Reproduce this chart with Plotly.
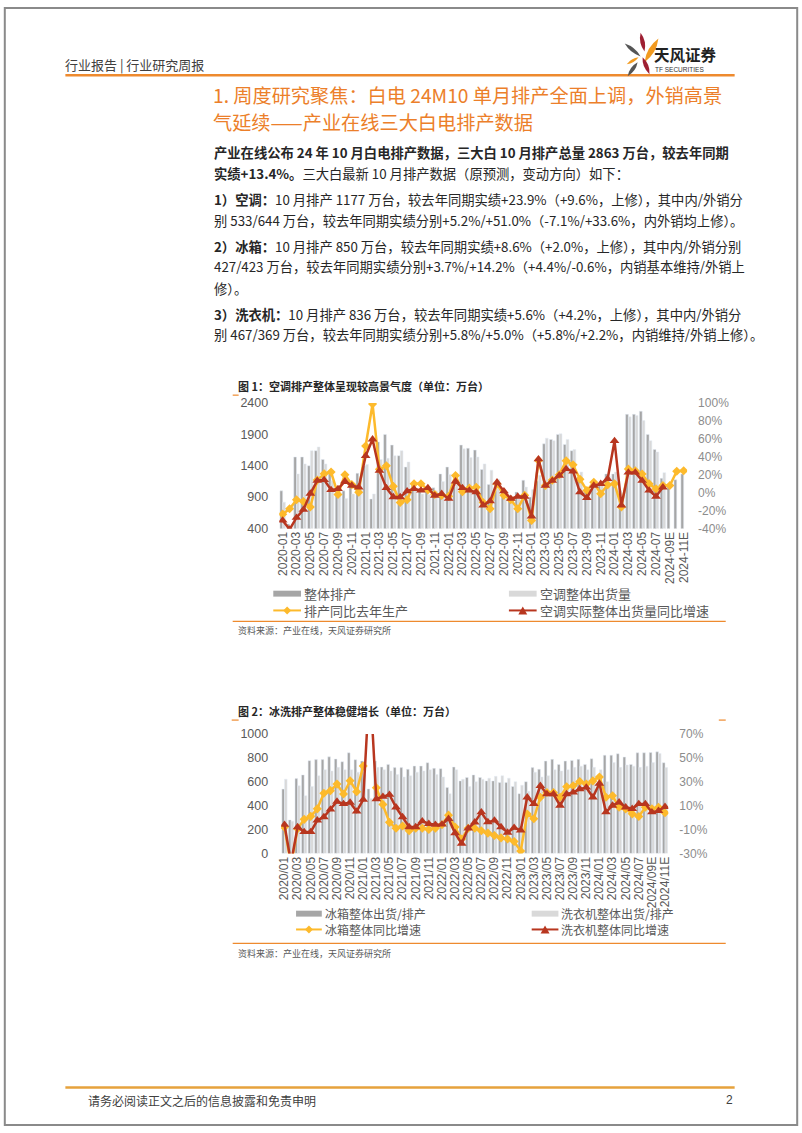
import math
import plotly.graph_objects as go

# ---------------- data ----------------
ac_months = [f"{y}-{m:02d}" for y in range(2020, 2025) for m in range(1, 13)][:56] + ["2024-09E", "2024-10E", "2024-11E"]
fw_months = [f"{y}/{m:02d}" for y in range(2020, 2025) for m in range(1, 13)][:56] + ["2024/09E", "2024/10E", "2024/11E"]

ac_prod = [1000, 470, 1540, 1540, 1400, 1640, 1500, 1320, 1060, 1000, 1100, 1280,
           1400, 870, 1780, 1900, 1730, 1560, 1380, 1100, 1000, 1000, 1050, 1270,
           1380, 1060, 1730, 1680, 1650, 1340, 1100, 1000, 920, 880, 980, 1170,
           900, 1160, 1750, 1820, 1900, 1740, 1640, 1220, 1060, 1110, 1080, 1270,
           1270, 1000, 2220, 2220, 2270, 1900, 1660, 1200, 1110, 1177, 1270]
ac_ship = [820, 420, 1270, 1430, 1640, 1700, 1430, 1160, 980, 880, 950, 1170,
           1420, 950, 1500, 1520, 1560, 1640, 1460, 1000, 950, 940, 1000, 1150,
           1260, 1100, 1670, 1530, 1540, 1430, 1330, 1180, 870, 800, 880, 1060,
           1020, 1250, 1840, 1800, 1910, 1820, 1660, 1300, 1000, 1050, 1150, 1230,
           1300, 900, 2180, 2200, 2120, 1800, 1620, 1290, None, None, None]
ac_prod_yoy = [-24, -18, -8, -10, -16, 14, 21, 23, -2, 20, 9, 0.5,
               52, 99, 26, 30, 7, -11, -8, 10, 10, 3, -2, -3,
               -4, 19, 1, 5, 6, -11, -18, 10, -3, -8, -18, -3,
               -31, 36, 8, 14, 20, 35.5, 31, 15, 2.4, 11.5, -1.3, 8.7,
               10, -16, 26.4, 24.5, 20.8, 9.8, 4.2, 7.9, 7.9, 23.9, 24.5]
ac_ship_yoy = [-31, -41, -28, -19, -1, 13.4, 14.2, 3, 4.2, 12.6, 7.9, 6,
               41, 59.5, 24.5, 5.3, -5, -5, 1.6, 4.2, 2.4, 5.3, -3.2, -1.3,
               -6.8, 12.6, 5.3, 2.4, 0.5, -14.2, -9.5, 11.5, 1.6, -6.8, -4.3, -4.3,
               -26.4, 37.4, 7.9, 13.4, 19, 26.4, 23.7, 0.5, -5.7, 7.9, 9.8, 15.3,
               57.7, -14.2, 22.6, 22.6, 13.4, 2.4, -4.3, 6]

fridge = [538, 280, 626, 657, 776, 785, 785, 808, 790, 767, 842, 784,
          773, 540, 773, 723, 745, 718, 718, 704, 731, 731, 759, 712,
          709, 552, 723, 607, 635, 657, 635, 607, 607, 593, 593, 560,
          500, 600, 718, 704, 773, 787, 745, 773, 778, 787, 745, 792,
          585, 822, 822, 834, 806, 745, 842, 842, 845, 850, 759]
washer = [621, 270, 566, 483, 560, 650, 700, 690, 720, 700, 700, 680,
          660, 460, 720, 700, 690, 660, 640, 650, 680, 690, 700, 660,
          640, 500, 700, 620, 560, 600, 620, 630, 645, 650, 630, 600,
          570, 520, 680, 640, 650, 700, 690, 700, 720, 730, 700, 720,
          700, 600, 760, 720, 740, 730, 720, 730, 760, 836, 718]
fridge_yoy = [-8, -40, -9.3, -1.5, 1, 7.3, 20.3, 22.5, 28, 19.7, 30.8, 21.7,
              43.2, None, 25, 11, -4, -9, -7, -11, -9, -9, -10, -9,
              -6, 2, -8, -18, -9, -9, -11, -13, -15, -17, -18, -20,
              -28, 3, -1, 17, 21, 21, 17, 25.8, 26.6, 30.2, 28, 30.7,
              34, 17, 18.3, 8.6, 7.3, 3.1, 0.9, 8.6, 7.3, 8.6, 4]
washer_yoy = [-6, -38, -7.9, -12, -12, -2.3, 0.4, 6.8, 13.4, 11.4, 12.6, 5.1,
              15, 115, 15.5, 17.5, 19.1, 8.6, 0.4, -7.9, -7.9, -3, -5.2, -6,
              -5.7, -1, -13, -21.7, -9, -4, 4.5, -3.8, -2.4, -7.9, -12.5, -8.5,
              -10.7, 17, 11.4, 26.6, 19.7, 19.7, 10, 19.7, 21, 23.8, 25.2, 17,
              28.5, 4.5, 10, 12.8, 8.6, 7.3, 11.4, 11.4, 4.5, 5.6, 9]

ac_left_ticks = [400, 900, 1400, 1900, 2400]
ac_right_ticks = [-40, -20, 0, 20, 40, 60, 80, 100]
ac_right_text = ["-40%", "-20%", "0%", "20%", "40%", "60%", "80%", "100%"]
fw_left_ticks = [0, 200, 400, 600, 800, 1000]
fw_right_ticks = [-30, -10, 10, 30, 50, 70]
fw_right_text = ["-30%", "-10%", "10%", "30%", "50%", "70%"]

# ---------------- style ----------------
W, H = 802, 1133
CJK = "Noto Sans CJK SC"
NUM = "Liberation Sans"
DARK = "#A6A6A6"
LIGHT = "#D9D9D9"
YEL = "#FDBA2C"
RED = "#B8361F"
ORANGE = "#EE8A2E"


def px(x):
    return x / W


def py(y):
    return 1 - y / H


fig = go.Figure()

# chart 1
fig.add_trace(go.Bar(x=ac_months, y=ac_prod, marker_color=DARK, xaxis="x", yaxis="y", name="整体排产"))
fig.add_trace(go.Bar(x=ac_months, y=ac_ship, marker_color=LIGHT, xaxis="x", yaxis="y", name="空调整体出货量"))
fig.add_trace(go.Scatter(x=ac_months, y=ac_prod_yoy, mode="lines+markers", xaxis="x", yaxis="y2",
                         line=dict(color=YEL, width=2.5), marker=dict(symbol="diamond", size=7, color=YEL),
                         name="排产同比去年生产"))
fig.add_trace(go.Scatter(x=ac_months[:len(ac_ship_yoy)], y=ac_ship_yoy, mode="lines+markers", xaxis="x", yaxis="y2",
                         line=dict(color=RED, width=2.5), marker=dict(symbol="triangle-up", size=8.5, color=RED),
                         name="空调实际整体出货量同比增速"))
# chart 2
fig.add_trace(go.Bar(x=fw_months, y=fridge, marker_color=DARK, xaxis="x2", yaxis="y3", name="冰箱整体出货/排产"))
fig.add_trace(go.Bar(x=fw_months, y=washer, marker_color=LIGHT, xaxis="x2", yaxis="y3", name="洗衣机整体出货/排产"))
fig.add_trace(go.Scatter(x=fw_months, y=fridge_yoy, mode="lines+markers", xaxis="x2", yaxis="y4",
                         line=dict(color=YEL, width=2.5), marker=dict(symbol="diamond", size=7, color=YEL),
                         name="冰箱整体同比增速"))
fig.add_trace(go.Scatter(x=fw_months, y=washer_yoy, mode="lines+markers", xaxis="x2", yaxis="y4",
                         line=dict(color=RED, width=2.5), marker=dict(symbol="triangle-up", size=8.5, color=RED),
                         name="洗衣机整体同比增速"))

tickfont_l = dict(family=NUM, size=12.5, color="#595959")
tickfont_r = dict(family=NUM, size=12, color="#8C8C8C")
tickfont_x = dict(family=NUM, size=12, color="#595959")

axis_common = dict(showgrid=False, zeroline=False, showline=False, ticks="")

layout = dict(
    width=W, height=H, margin=dict(l=0, r=0, t=0, b=0),
    paper_bgcolor="white", plot_bgcolor="rgba(0,0,0,0)",
    showlegend=False, barmode="group", bargap=0.2, bargroupgap=0,
    xaxis=dict(domain=[px(278), px(690)], anchor="y", type="category", range=[-0.5, 58.5],
               tickmode="array", tickvals=ac_months[::2], ticktext=ac_months[::2],
               tickangle=-90, tickfont=tickfont_x, **axis_common),
    yaxis=dict(domain=[py(528), py(401)], anchor="x", range=[400, 2400], tickvals=ac_left_ticks,
               tickfont=tickfont_l, ticklabelstandoff=10, **axis_common),
    yaxis2=dict(overlaying="y", anchor="x", side="right", range=[-40, 100], tickmode="array",
                tickvals=ac_right_ticks, ticktext=ac_right_text,
                tickfont=tickfont_r, ticklabelstandoff=10, **axis_common),
    xaxis2=dict(domain=[px(280), px(671)], anchor="y3", type="category", range=[-0.5, 58.5],
                tickmode="array", tickvals=fw_months[::2], ticktext=fw_months[::2],
                tickangle=-90, tickfont=tickfont_x, **axis_common),
    yaxis3=dict(domain=[py(857), py(736)], anchor="x2", range=[0, 1000], tickvals=fw_left_ticks,
                tickfont=tickfont_l, ticklabelstandoff=12, **axis_common),
    yaxis4=dict(overlaying="y3", anchor="x2", side="right", range=[-30, 70], tickmode="array",
                tickvals=fw_right_ticks, ticktext=fw_right_text,
                tickfont=tickfont_r, ticklabelstandoff=10, **axis_common),
)
fig.update_layout(**layout)

shapes = []
annots = []


def hline(x0, x1, y, color, width):
    shapes.append(dict(type="line", xref="paper", yref="paper", x0=px(x0), x1=px(x1), y0=py(y), y1=py(y),
                       line=dict(color=color, width=width)))


def rect(x0, x1, y0, y1, color):
    shapes.append(dict(type="rect", xref="paper", yref="paper", x0=px(x0), x1=px(x1), y0=py(y1), y1=py(y0),
                       fillcolor=color, line=dict(width=0)))


def poly(points, color):
    d = "M " + " L ".join(f"{px(x):.5f},{py(y):.5f}" for x, y in points) + " Z"
    shapes.append(dict(type="path", xref="paper", yref="paper", path=d, fillcolor=color, line=dict(width=0)))


def leaf(p1, p2, w, color):
    (x1, y1), (x2, y2) = p1, p2
    mx, my = (x1 + x2) / 2, (y1 + y2) / 2
    dx, dy = x2 - x1, y2 - y1
    L = math.hypot(dx, dy)
    nx, ny = -dy / L * w, dx / L * w
    c1 = (mx + nx, my + ny)
    c2 = (mx - nx, my - ny)
    d = (f"M {px(x1):.5f},{py(y1):.5f} Q {px(c1[0]):.5f},{py(c1[1]):.5f} {px(x2):.5f},{py(y2):.5f} "
         f"Q {px(c2[0]):.5f},{py(c2[1]):.5f} {px(x1):.5f},{py(y1):.5f} Z")
    shapes.append(dict(type="path", xref="paper", yref="paper", path=d, fillcolor=color, line=dict(width=0)))


def txt(x, y, text, size, color="#262626", anchor="left", family=CJK):
    annots.append(dict(x=px(x), y=py(y), xref="paper", yref="paper", text=text, showarrow=False,
                       xanchor=anchor, yanchor="middle", borderpad=0,
                       font=dict(family=family, size=size, color=color)))


# page frame
shapes.append(dict(type="rect", xref="paper", yref="paper", x0=0.001, x1=0.999, y0=0.001, y1=0.999,
                   line=dict(color="#8A8A8A", width=2)))

# header
txt(61, 58, "行业报告 | 行业研究周报", 13, "#404040")
hline(62, 738, 69, ORANGE, 2.5)
# logo
MAROON = "#9E1F32"
LOGO_OR = "#F29A1F"
GRAY = "#555555"
leaf((643, 26), (647, 45), 4.5, MAROON)
leaf((661, 32), (647, 56), 6, LOGO_OR)
leaf((627, 37), (643, 50), 4, GRAY)
leaf((629, 58), (641, 51), 3, LOGO_OR)
leaf((645, 51), (652, 68), 4.5, MAROON)
leaf((640, 56), (630, 70), 4, GRAY)
txt(656, 48, "<b>天风证券</b>", 15.5, "#222222")
txt(657, 63, "TF SECURITIES", 6.5, "#333333", family=NUM)

# title
TITLE_C = "#EC7F2A"
txt(210, 89, "1. 周度研究聚焦：白电 24M10 单月排产全面上调，外销高景", 19.2, TITLE_C)
txt(210, 116, "气延续——产业在线三大白电排产数据", 19.2, TITLE_C)

# paragraphs
P = 13.3
PC = "#262626"
X0 = 211
txt(X0, 147, "<b>产业在线公布 24 年 10 月白电排产数据，三大白 10 月排产总量 2863 万台，较去年同期</b>", P, PC)
txt(X0, 169, "<b>实绩+13.4%。</b>三大白最新 10 月排产数据（原预测，变动方向）如下：", P, PC)
txt(X0, 195, "<b>1）空调：</b>10 月排产 1177 万台，较去年同期实绩+23.9%（+9.6%，上修），其中内/外销分", P, PC)
txt(X0, 216, "别 533/644 万台，较去年同期实绩分别+5.2%/+51.0%（-7.1%/+33.6%，内外销均上修）。", P, PC)
txt(X0, 242, "<b>2）冰箱：</b>10 月排产 850 万台，较去年同期实绩+8.6%（+2.0%，上修），其中内/外销分别", P, PC)
txt(X0, 263, "427/423 万台，较去年同期实绩分别+3.7%/+14.2%（+4.4%/-0.6%，内销基本维持/外销上", P, PC)
txt(X0, 285, "修）。", P, PC)
txt(X0, 311, "<b>3）洗衣机：</b>10 月排产 836 万台，较去年同期实绩+5.6%（+4.2%，上修），其中内/外销分", P, PC)
txt(X0, 332, "别 467/369 万台，较去年同期实绩分别+5.8%/+5.0%（+5.8%/+2.2%，内销维持/外销上修）。", P, PC)

# chart 1 frame texts
txt(235, 384, "<b>图 1：空调排产整体呈现较高景气度（单位：万台）</b>", 11, "#262626")
hline(231, 237, 393, ORANGE, 1.2)
LG = "#595959"
rect(272, 300, 591, 597, DARK)
txt(302, 594, "整体排产", 13, LG)
rect(510, 538, 591, 597, LIGHT)
txt(540, 594, "空调整体出货量", 13, LG)
hline(272, 300, 611, YEL, 2)
poly([(286, 607), (290, 611), (286, 615), (282, 611)], YEL)
txt(302, 611, "排产同比去年生产", 13, LG)
hline(510, 538, 611, RED, 2)
poly([(519.5, 615), (524, 607), (528.5, 615)], RED)
txt(540, 611, "空调实际整体出货量同比增速", 13, LG)
hline(231, 729, 622, ORANGE, 1.2)
txt(235, 631, "资料来源：产业在线，天风证券研究所", 9, "#595959")

# chart 2 frame texts
txt(235, 713, "<b>图 2：冰洗排产整体稳健增长（单位：万台）</b>", 11, "#262626")
hline(230, 237, 722, ORANGE, 1.2)
hline(722, 729, 722, ORANGE, 1.2)
rect(295, 321, 915, 921, DARK)
txt(323, 918, "冰箱整体出货/排产", 12, LG)
rect(533, 560, 915, 921, LIGHT)
txt(562, 918, "洗衣机整体出货/排产", 12, LG)
hline(295, 321, 934, YEL, 2)
poly([(308, 930), (312, 934), (308, 938), (304, 934)], YEL)
txt(323, 934, "冰箱整体同比增速", 12, LG)
hline(533, 560, 934, RED, 2)
poly([(542, 938), (546.5, 930), (551, 938)], RED)
txt(562, 934, "洗衣机整体同比增速", 12, LG)
hline(231, 729, 948, ORANGE, 1.2)
txt(235, 958, "资料来源：产业在线，天风证券研究所", 9, "#595959")

# footer
hline(62, 738, 1094, "#E6A23C", 2.5)
txt(84, 1107, "请务必阅读正文之后的信息披露和免责申明", 12, "#404040")
txt(737, 1107, "2", 12, "#404040", anchor="right", family=NUM)

fig.update_layout(shapes=shapes, annotations=annots)
fig.write_html("out.html")
